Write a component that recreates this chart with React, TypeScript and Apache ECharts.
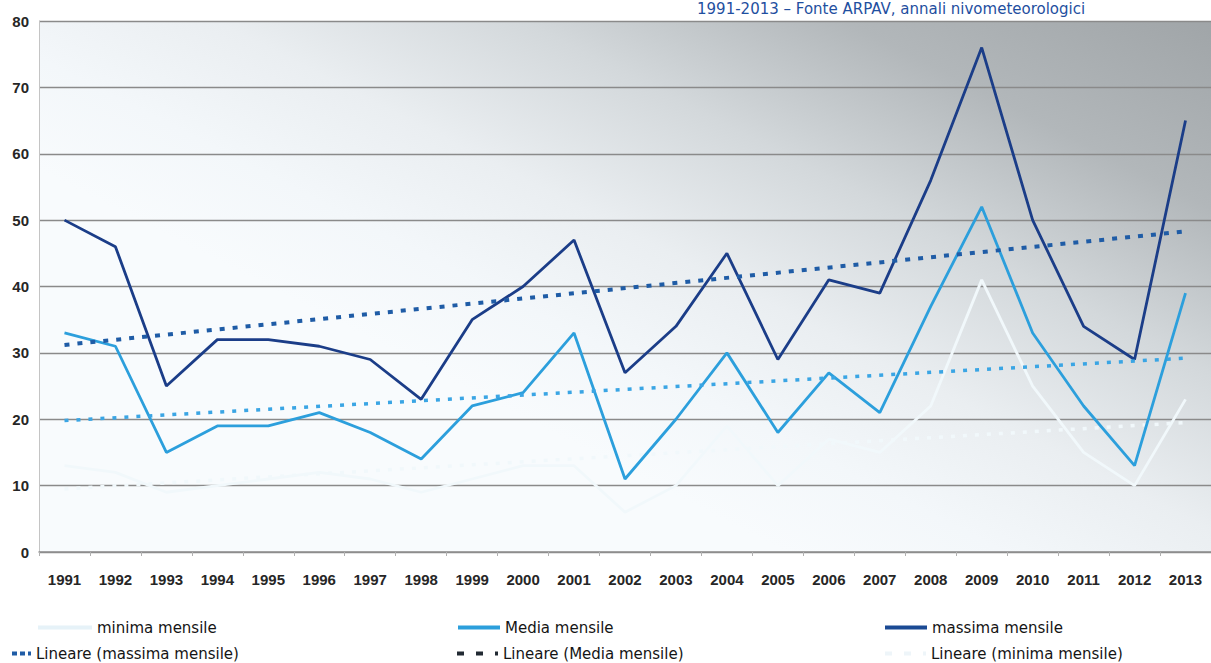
import React, { useEffect, useRef } from "react";
import * as echarts from "echarts";

const years = ["1991","1992","1993","1994","1995","1996","1997","1998","1999","2000","2001","2002","2003","2004","2005","2006","2007","2008","2009","2010","2011","2012","2013"];
const minima = [13, 12, 9, 10, 11, 12, 11, 9, 11, 13, 13, 6, 10, 19, 10, 17, 15, 22, 41, 25, 15, 10, 23];
const media = [33, 31, 15, 19, 19, 21, 18, 14, 22, 24, 33, 11, 20, 30, 18, 27, 21, 37, 52, 33, 22, 13, 39];
const massima = [50, 46, 25, 32, 32, 31, 29, 23, 35, 40, 47, 27, 34, 45, 29, 41, 39, 56, 76, 50, 34, 29, 65];
// linear trend lines: start (1991) and end (2013) values
const trendMassima = [31.2, 48.3];
const trendMedia = [19.8, 29.2];
const trendMinima = [9.5, 19.5];
const yTicks = { min: 0, max: 80, interval: 10 };
const sourceNote = "1991-2013 \u2013 Fonte ARPAV, annali nivometeorologici";

function endpoints(v: number[]) {
  return years.map((_, i) => (i === 0 ? v[0] : i === years.length - 1 ? v[1] : null));
}

const bar = (w: number) => `path://M0,0h${w}v4h-${w}z`;
const dotsSmall = "path://M0,0h5v4h-5z M8,0h5v4h-5z M16,0h3v4h-3z";
const dotsWide = "path://M0,0h7v4h-7z M19,0h7v4h-7z M38,0h3v4h-3z";

export default function App() {
  const ref = useRef<HTMLDivElement>(null);
  useEffect(() => {
    if (!ref.current) return;
    const chart = echarts.init(ref.current, null, { renderer: "svg" });
    const legendText = { fontFamily: "DejaVu Sans", fontSize: 15, color: "#151515" };
    const mk = (name: string, left: number, top: number, w: number, icon: string) => ({
      data: [{ name, icon }], left, top, itemWidth: w, itemHeight: 4, padding: 0,
      textStyle: legendText, selectedMode: false,
    });
    chart.setOption({
      animation: false,
      backgroundColor: "#ffffff",
      graphic: [
        {
          type: "text", left: 697, top: 1,
          style: { text: sourceNote, fill: "#1f4fa0", font: '15px "DejaVu Sans"' },
        },
      ],
      grid: {
        left: 39, top: 21, width: 1180, height: 531,
        show: true, borderWidth: 0,
        backgroundColor: new echarts.graphic.LinearGradient(1, 0, 0.3, 0.62, [
          { offset: 0, color: "#a0a5a8" },
          { offset: 0.25, color: "#b2b7ba" },
          { offset: 0.47, color: "#d3d8db" },
          { offset: 0.68, color: "#eaeef1" },
          { offset: 0.85, color: "#f3f7fa" },
          { offset: 1, color: "#f8fbfd" },
        ]),
      },
      legend: [
        mk("minima mensile", 38, 620, 54, bar(54)),
        mk("Media mensile", 458, 620, 42, bar(42)),
        mk("massima mensile", 885, 620, 42, bar(42)),
        mk("Lineare (massima mensile)", 12, 646, 19, dotsSmall),
        mk("Lineare (Media mensile)", 457, 646, 41, dotsWide),
        mk("Lineare (minima mensile)", 885, 646, 41, dotsWide),
      ],
      xAxis: {
        type: "category",
        data: years,
        boundaryGap: true,
        axisLine: { show: true, lineStyle: { color: "#8e8e8e", width: 1.5 } },
        axisTick: { show: true, length: 4, inside: false, lineStyle: { color: "#b0b0b0" } },
        axisLabel: {
          margin: 20, fontFamily: "Liberation Sans", fontWeight: "bold",
          fontSize: 15, color: "#262626", interval: 0,
        },
        splitLine: { show: false },
      },
      yAxis: {
        type: "value",
        min: yTicks.min, max: yTicks.max, interval: yTicks.interval,
        axisLine: { show: true, lineStyle: { color: "#c4c4c4", width: 1 } },
        axisTick: { show: false },
        axisLabel: {
          margin: 10, fontFamily: "Liberation Sans", fontWeight: "bold",
          fontSize: 15, color: "#262626",
        },
        splitLine: { show: true, lineStyle: { color: "#8a8a8a", width: 1.3 } },
      },
      series: [
        {
          name: "minima mensile", type: "line", data: minima, symbol: "none",
          lineStyle: { color: "#f1f8fb", width: 2.8 }, itemStyle: { color: "#e6f2f8" }, z: 1,
        },
        {
          name: "Lineare (minima mensile)", type: "line", data: endpoints(trendMinima),
          connectNulls: true, symbol: "none",
          lineStyle: { color: "#f1f8fb", width: 3.5, type: [4, 8] }, itemStyle: { color: "#eef5f9" }, z: 1,
        },
        {
          name: "Media mensile", type: "line", data: media, symbol: "none",
          lineStyle: { color: "#2c9fdc", width: 2.8 }, itemStyle: { color: "#2c9fdc" }, z: 3,
        },
        {
          name: "massima mensile", type: "line", data: massima, symbol: "none",
          lineStyle: { color: "#1b3d88", width: 2.8 }, itemStyle: { color: "#1b4a94" }, z: 4,
        },
        {
          name: "Lineare (massima mensile)", type: "line", data: endpoints(trendMassima),
          connectNulls: true, symbol: "none",
          lineStyle: { color: "#1f5ca6", width: 4, type: [5, 8] }, itemStyle: { color: "#1f5ca6" }, z: 5,
        },
        {
          name: "Lineare (Media mensile)", type: "line", data: endpoints(trendMedia),
          connectNulls: true, symbol: "none",
          lineStyle: { color: "#3aa5e4", width: 3.5, type: [4, 8] }, itemStyle: { color: "#222a33" }, z: 5,
        },
      ],
    });
    return () => chart.dispose();
  }, []);
  return (
    <div
      ref={ref}
      style={{ position: "fixed", left: 0, top: 0, width: 1211, height: 663, background: "#fff" }}
    />
  );
}
